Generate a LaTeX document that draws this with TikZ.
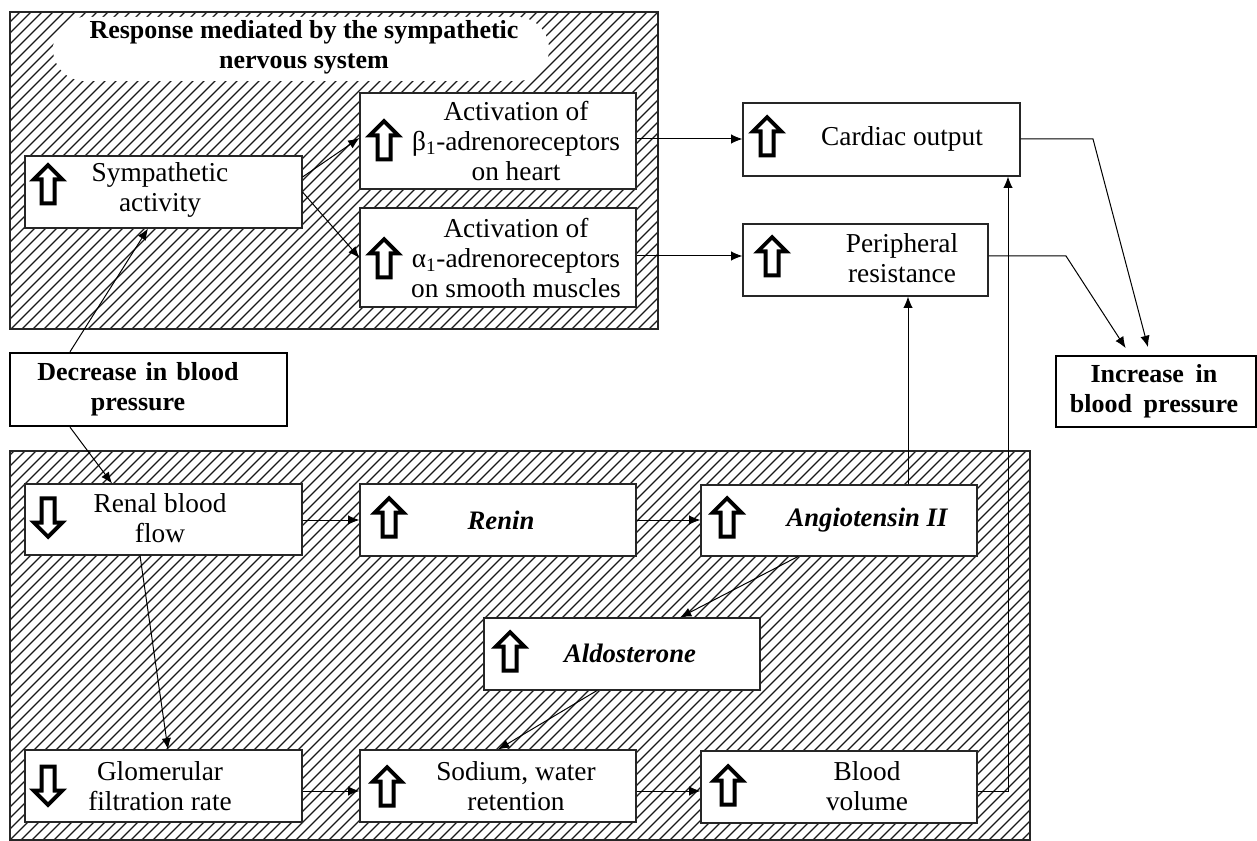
\documentclass[tikz,border=0pt]{standalone}
\usepackage{fontspec}
\setmainfont{Liberation Serif}
\usetikzlibrary{arrows.meta,fit}
\begin{document}
\begin{tikzpicture}[x=0.75pt,y=-0.75pt,
  box/.style={draw=black!85, line width=0.8pt, fill=white, inner sep=0pt},
  keybox/.style={draw=black, line width=1.8pt, fill=white, inner sep=0pt},
  txt/.style={align=center, inner sep=0pt, font=\fontsize{20.5}{22.5}\selectfont},
  btxt/.style={align=center, inner sep=0pt, font=\fontsize{19.5}{22.5}\selectfont\bfseries},
  itxt/.style={align=center, inner sep=0pt, font=\fontsize{20}{22.5}\selectfont\bfseries\itshape},
  hatch/.style={line width=1pt, black!90},
  frame/.style={draw=black!85, line width=0.8pt},
  conn/.style={line width=0.75pt, -{Latex[length=8.5pt,width=7pt]}},
  uparrow/.pic={
    \fill[black] (0,-21.5) -- (19,-2.5) -- (8.5,-2.5) -- (8.5,21.5) -- (-8.5,21.5) -- (-8.5,-2.5) -- (-19,-2.5) -- cycle;
    \fill[white] (0,-15.8) -- (9.3,-6.5) -- (4.5,-6.5) -- (4.5,17.5) -- (-4.5,17.5) -- (-4.5,-6.5) -- (-9.3,-6.5) -- cycle;},
  downarrow/.pic={
    \fill[black] (0,21.5) -- (19,2.5) -- (8.5,2.5) -- (8.5,-21.5) -- (-8.5,-21.5) -- (-8.5,2.5) -- (-19,2.5) -- cycle;
    \fill[white] (0,15.8) -- (9.3,6.5) -- (4.5,6.5) -- (4.5,-17.5) -- (-4.5,-17.5) -- (-4.5,6.5) -- (-9.3,6.5) -- cycle;}
]
\useasboundingbox (0,0) rectangle (1257,841);

% hatched area: sympathetic response
\begin{scope}
  \clip (10,12) rectangle (658,329);
  \foreach \i in {-32,...,62} \draw[hatch] (\i*11,340) -- ++(340,-340);
  \fill[white, rounded corners=24pt] (53,17) rectangle (549,81);
\end{scope}
\draw[frame] (10,12) rectangle (658,329);
\node[btxt] (title) at (304,47) {Response mediated by the sympathetic\\nervous system};

% hatched area: renal response
\begin{scope}
  \clip (10,451) rectangle (1030,840);
  \foreach \i in {-37,...,95} \draw[hatch] (\i*11,850) -- ++(400,-400);
\end{scope}
\draw[frame] (10,451) rectangle (1030,840);

% boxes
\node[box, fit={(25,156)(302,228)}] (symp) {};
\node[box, fit={(360,93)(636,189)}] (beta) {};
\node[box, fit={(360,208)(636,307)}] (alpha) {};
\node[box, fit={(743,103)(1020,176)}] (cardiac) {};
\node[box, fit={(743,224)(988,296)}] (periph) {};
\node[keybox, fit={(1056,356)(1256,427)}] (incr) {};
\node[keybox, fit={(10,353)(287,426)}] (decr) {};
\node[box, fit={(25,484)(302,555)}] (renal) {};
\node[box, fit={(360,484)(636,556)}] (renin) {};
\node[box, fit={(701,485)(977,556)}] (angio) {};
\node[box, fit={(484,618)(760,690)}] (aldo) {};
\node[box, fit={(25,750)(302,822)}] (glom) {};
\node[box, fit={(360,750)(636,822)}] (sodium) {};
\node[box, fit={(701,751)(977,823)}] (bvol) {};

% labels
\node[txt] (symp-t) at (160,190) {Sympathetic\\activity};
\node[txt] (beta-t) at (516,141) {Activation of\\β\textsubscript{1}-adrenoreceptors\\on heart};
\node[txt] (alpha-t) at (516,258) {Activation of\\α\textsubscript{1}-adrenoreceptors\\on smooth muscles};
\node[txt] (cardiac-t) at (902,139) {Cardiac output};
\node[txt] (periph-t) at (902,258) {Peripheral\\resistance};
\node[btxt] (incr-t) at (1154,391) {Increase\hspace{0.45em}in\\blood\hspace{0.45em}pressure};
\node[btxt] (decr-t) at (138,389) {Decrease\hspace{0.35em}in\hspace{0.35em}blood\\pressure};
\node[txt] (renal-t) at (160,518) {Renal blood\\flow};
\node[itxt] (renin-t) at (501,520) {Renin};
\node[itxt] (angio-t) at (867,520) {Angiotensin II};
\node[itxt] (aldo-t) at (630,653) {Aldosterone};
\node[txt] (glom-t) at (160,786) {Glomerular\\filtration rate};
\node[txt] (sodium-t) at (516,786) {Sodium, water\\retention};
\node[txt] (bvol-t) at (867,786) {Blood\\volume};

% up / down markers
\pic at (48,184) {uparrow};
\pic at (384,140) {uparrow};
\pic at (384,258) {uparrow};
\pic at (767,136) {uparrow};
\pic at (772,256) {uparrow};
\pic at (48,518) {downarrow};
\pic at (389,517) {uparrow};
\pic at (727,517) {uparrow};
\pic at (510,651) {uparrow};
\pic at (48,786) {downarrow};
\pic at (387,786) {uparrow};
\pic at (728,785) {uparrow};

% bend points
\coordinate (cbend) at (1093,139);
\coordinate (pbend) at (1066,256);

% connectors
\draw[conn] (symp.east |- 0,177) -- (beta.west |- 0,138);
\draw[conn] (symp.east |- 0,192) -- (alpha.west |- 0,258);
\draw[conn] (beta.east |- 0,139) -- (cardiac.west |- 0,139);
\draw[conn] (alpha.east |- 0,256) -- (periph.west |- 0,256);
\draw[conn, shorten >=6pt] (cardiac.east |- cbend) -- (cbend) -- (incr.north -| 1150,0);
\draw[conn, shorten >=6pt] (periph.east |- pbend) -- (pbend) -- (incr.north -| 1130,0);
\draw[conn] (angio.north -| 908,0) -- (periph.south -| 908,0);
\draw[conn] (bvol.east |- 0,791) -| (cardiac.south -| 1008,0);
\draw[conn] (decr.north -| 70,0) -- (symp.south -| 148,0);
\draw[conn] (decr.south -| 70,0) -- (renal.north -| 112,0);
\draw[conn] (renal.east |- 0,520) -- (renin.west |- 0,520);
\draw[conn] (renin.east |- 0,520) -- (angio.west |- 0,520);
\draw[conn] (angio.south -| 798,0) -- (aldo.north -| 680,0);
\draw[conn] (aldo.south -| 597,0) -- (sodium.north -| 498,0);
\draw[conn] (renal.south -| 140,0) -- (glom.north -| 168,0);
\draw[conn] (glom.east |- 0,791) -- (sodium.west |- 0,791);
\draw[conn] (sodium.east |- 0,791) -- (bvol.west |- 0,791);
\end{tikzpicture}
\end{document}
